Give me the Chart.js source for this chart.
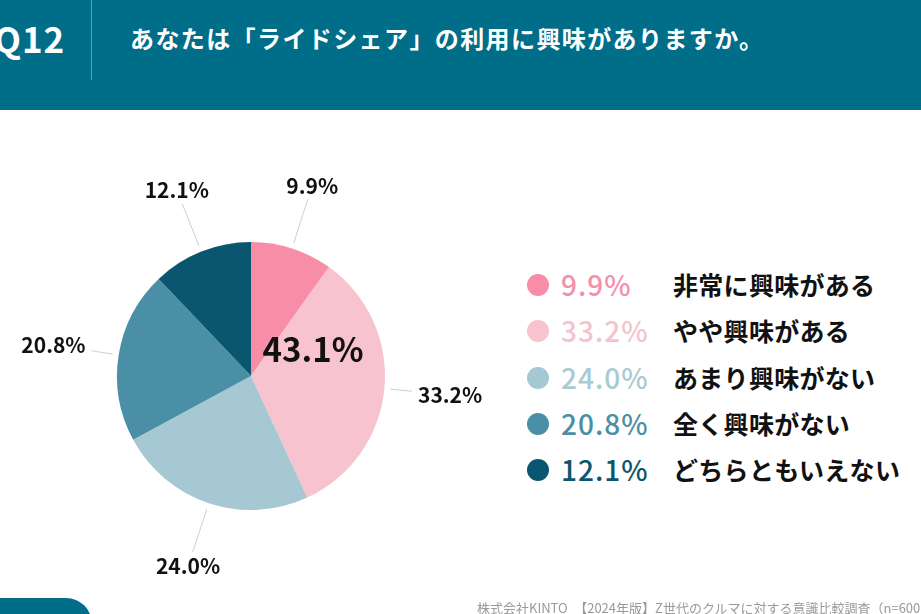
<!DOCTYPE html>
<html lang="ja">
<head>
<meta charset="utf-8">
<script src="https://cdn.jsdelivr.net/npm/chart.js@4.4.1/dist/chart.umd.min.js"></script>
<style>
    html, body { margin: 0; padding: 0; }
    body {
        width: 921px; height: 614px; overflow: hidden; position: relative;
        background: #ffffff; font-family: "Noto Sans CJK JP", "Noto Sans", sans-serif;
    }
    #testata {
        position: absolute; left: 0; top: 0; width: 921px; height: 110px;
        background: #006e89;
    }
    #numero {
        position: absolute; left: -6px; top: 12px; color: #fff;
        font-size: 35px; font-weight: 700; letter-spacing: 1px;
    }
    #divisore {
        position: absolute; left: 91px; top: 0; width: 1px; height: 80px; background: #5f9fb1;
    }
    #domanda {
        position: absolute; left: 130px; top: 20px; color: #fff;
        font-size: 24px; font-weight: 700; letter-spacing: 1.4px;
    }
    #grafico { position: absolute; left: 0; top: 140px; }
    #legenda { position: absolute; left: 527px; top: 262px; }
    .riga { position: relative; height: 46.3px; }
    .punto { position: absolute; left: 0; top: 12px; width: 22px; height: 22px; border-radius: 50%; }
    .perc { position: absolute; left: 34px; top: 2px; font-size: 28px; font-weight: 500; letter-spacing: 1px; line-height: 40px; }
    .voce { position: absolute; left: 146px; top: 2px; font-size: 25px; font-weight: 700; color: #111; line-height: 40px; white-space: nowrap; letter-spacing: 0.3px; }
    #fonte {
        position: absolute; left: 477px; top: 598px; color: #999; font-size: 13px; white-space: nowrap;
    }
    #logo {
        position: absolute; left: -20px; top: 598px; width: 112px; height: 40px;
        background: #006e89; border-radius: 0 26px 0 0; color: #fff;
        font-size: 30px; font-weight: 700; padding-left: 24px; padding-top: 10px; line-height: 40px; box-sizing: border-box;
    }
</style>
</head>
<body>
<div id="testata">
    <div id="numero">Q12</div>
    <div id="divisore"></div>
    <div id="domanda">あなたは「ライドシェア」の利用に興味がありますか。</div>
</div>
<canvas id="grafico" width="502" height="472"></canvas>
<div id="legenda"></div>
<div id="fonte">株式会社KINTO　【2024年版】Z世代のクルマに対する意識比較調査（n=600）</div>
<div id="logo">KINTO</div>

<script>
const categorie = ['非常に興味がある', 'やや興味がある', 'あまり興味がない', '全く興味がない', 'どちらともいえない'];
const quote = [9.9, 33.2, 24.0, 20.8, 12.1];
const colori = ['#f78da7', '#f6c3ce', '#a6c8d2', '#4a8fa6', '#0a566e'];
const coloriTesto = ['#f590aa', '#f5c2cd', '#a9cad3', '#4a8fa6', '#0a566e'];

// totale "interessati" = prime due voci
const totaleInteressati = (quote[0] + quote[1]).toFixed(1) + '%';

function popolaLegenda() {
    const legenda = document.getElementById('legenda');
    categorie.forEach((nome, i) => {
        const riga = document.createElement('div');
        riga.className = 'riga';
        riga.innerHTML =
            `<div class="punto" style="background:${colori[i]}"></div>` +
            `<div class="perc" style="color:${coloriTesto[i]}">${quote[i].toFixed(1)}%</div>` +
            `<div class="voce">${nome}</div>`;
        legenda.appendChild(riga);
    });
}

const pluginEtichette = {
    id: 'etichetteEsterne',
    afterDraw: (chart) => {
        const ctx = chart.ctx;
        const meta = chart.getDatasetMeta(0);
        ctx.save();
        meta.data.forEach((arco, i) => {
            const p = arco.getProps(['x', 'y', 'startAngle', 'endAngle', 'outerRadius'], true);
            const medio = (p.startAngle + p.endAngle) / 2;
            const cos = Math.cos(medio), sin = Math.sin(medio);
            const testo = quote[i].toFixed(1) + '%';
            ctx.font = '600 21px "Noto Sans CJK JP"';
            const w = ctx.measureText(testo).width, h = 16;
            const rTesto = p.outerRadius + 66;
            const lx = p.x + cos * rTesto, ly = p.y + sin * rTesto;
            const metaX = Math.abs(cos) > 0.001 ? (w / 2) / Math.abs(cos) : Infinity;
            const metaY = Math.abs(sin) > 0.001 ? (h / 2) / Math.abs(sin) : Infinity;
            const rFine = rTesto - Math.min(metaX, metaY) - 6;
            const rInizio = p.outerRadius + 6;

            ctx.strokeStyle = '#cfcfcf';
            ctx.lineWidth = 1;
            ctx.beginPath();
            ctx.moveTo(p.x + cos * rInizio, p.y + sin * rInizio);
            ctx.lineTo(p.x + cos * rFine, p.y + sin * rFine);
            ctx.stroke();

            ctx.fillStyle = '#111';
            ctx.textAlign = 'center';
            ctx.textBaseline = 'middle';
            ctx.fillText(testo, lx, ly);
        });

        // etichetta centrale
        const primo = meta.data[0];
        ctx.font = '600 33px "Noto Sans CJK JP"';
        ctx.fillStyle = '#111';
        ctx.textAlign = 'center';
        ctx.textBaseline = 'middle';
        ctx.fillText(totaleInteressati, primo.x + 62, primo.y - 27);
        ctx.restore();
    }
};

popolaLegenda();

new Chart(document.getElementById('grafico'), {
    type: 'pie',
    data: {
        labels: categorie,
        datasets: [{
            data: quote,
            backgroundColor: colori,
            borderWidth: 0
        }]
    },
    options: {
        responsive: false,
        animation: false,
        radius: 134,
        layout: { padding: 0 },
        plugins: {
            legend: { display: false },
            tooltip: { enabled: false }
        }
    },
    plugins: [pluginEtichette]
});
</script>
</body>
</html>
